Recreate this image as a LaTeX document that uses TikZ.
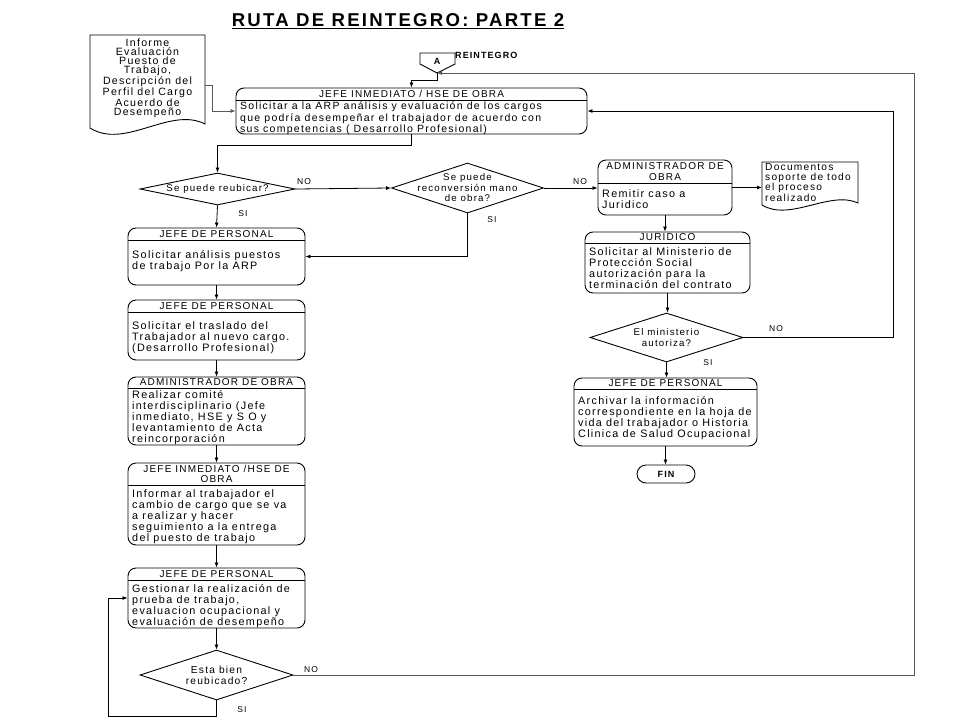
\documentclass[tikz,border=0pt]{standalone}
\usepackage{fontspec}
\setmainfont{Liberation Sans}[LetterSpace=12]
\usetikzlibrary{calc,fit,shapes.geometric,arrows.meta}
% name, left, top, right, bottom, header line, header, body top, body
\newcommand{\caja}[9]{%
  \node[caja, fit={(#2,#3) (#4,#5)}] (#1) {};
  \draw[linea] (#2,#6) -- (#4,#6);
  \node[cab] (#1c) at ({(#2+#4)/2},{(#3+#6)/2}) {#7};
  \node[cuerpo] (#1t) at ({#2+4},#8) {#9};
}
\tikzset{
  linea/.style={line width=0.9pt, black},
  caja/.style={draw, line width=0.9pt, rounded corners=8pt, inner sep=0pt},
  cab/.style={inner sep=0pt, align=center, font=\fontsize{10}{10.5}\selectfont},
  cuerpo/.style={inner sep=0pt, align=left, anchor=north west, font=\fontsize{10.8}{11.2}\selectfont},
  decision/.style={diamond, draw, line width=0.9pt, inner sep=0pt},
  texto/.style={inner sep=0pt, align=center, font=\fontsize{9.7}{10.5}\selectfont},
  etiqueta/.style={inner sep=0pt, font=\fontsize{8.5}{9}\selectfont},
  flecha/.style={line width=0.8pt, -{Latex[length=5pt,width=4pt]}},
  retorno/.style={flecha, gray!70!black},
  terminal/.style={draw, line width=0.9pt, rounded corners=9pt, inner sep=0pt},
}
\begin{document}
\begin{tikzpicture}[x=1pt,y=-1pt]
  \fill[white] (0,0) rectangle (960,720);
  \useasboundingbox (0,0) rectangle (960,720);
  %%%%% TITULO %%%%%
  \node[inner sep=0pt, font=\fontsize{18.6}{20}\selectfont\bfseries] (tit) at (398,21) {\underline{RUTA DE REINTEGRO: PARTE 2}};

  %%%%% CONECTOR A %%%%%
  \draw[linea] (420,53) -- (455,53) -- (455,64) -- (437,73) -- (420,64) -- cycle;
  \node[inner sep=0pt, font=\fontsize{9}{10}\selectfont\bfseries] (A) at (437,61) {A};
  \coordinate (Av) at (437,73);
  \node[inner sep=0pt, anchor=west, font=\fontsize{9}{10}\selectfont\bfseries] (reint) at (455,55) {REINTEGRO};

  %%%%% DOCUMENTOS %%%%%
  \draw[linea] (90,35) -- (205,35) -- (205,124) .. controls (170,106) and (125,150) .. (90,128) -- cycle;
  \node[texto, font=\fontsize{10.6}{9.1}\selectfont] (doc1) at (147.5,78) {Informe\\Evaluación\\Puesto de\\Trabajo,\\Descripción del\\Perfil del Cargo\\Acuerdo de\\Desempeño};
  \coordinate (doc1e) at (205,85);

  \draw[linea] (762,162) -- (858,162) -- (858,203) .. controls (830,190) and (790,222) .. (762,205) -- cycle;
  \node[cuerpo, font=\fontsize{10.2}{9.5}\selectfont] (doc2) at (765,163.5) {Documentos\\soporte de todo\\el proceso\\realizado};
  \coordinate (doc2w) at (762,190);

  %%%%% CAJAS %%%%%
  \begin{scope}[cuerpo/.append style={font=\fontsize{10.5}{11.2}\selectfont}]
    \caja{jio}{236}{88}{587}{134}{100}{JEFE INMEDIATO / HSE DE OBRA}{102}{ Solicitar a la ARP  análisis y evaluación de los cargos\\que podría desempeñar el trabajador de acuerdo con\\sus competencias ( Desarrollo Profesional)}
  \end{scope}
  \caja{jp1}{128}{228}{305}{285}{240}{JEFE DE PERSONAL}{250}{Solicitar análisis puestos\\de trabajo Por la ARP}
  \caja{jp2}{128}{300}{305}{360}{312}{JEFE DE PERSONAL}{321}{Solicitar el traslado del\\Trabajador al nuevo cargo.\\(Desarrollo Profesional)}
  \begin{scope}[cuerpo/.append style={font=\fontsize{10.8}{10.9}\selectfont}]
    \caja{ao}{128}{377}{305}{445}{388}{ADMINISTRADOR DE OBRA}{390.5}{Realizar comité\\interdisciplinario (Jefe\\inmediato, HSE y S O y\\levantamiento de Acta\\reincorporación}
  \end{scope}
  \caja{jih}{128}{463}{305}{545}{485}{JEFE INMEDIATO /HSE DE\\OBRA}{489}{Informar al trabajador el\\cambio de cargo que se va\\a realizar y hacer\\seguimiento a la entrega\\del puesto de trabajo}
  \caja{jp4}{128}{568}{305}{628}{580}{JEFE DE PERSONAL}{584}{Gestionar la  realización de\\prueba de trabajo,\\evaluacion ocupacional y\\evaluación de desempeño}
  \caja{adm}{598}{160}{732}{215}{183}{ADMINISTRADOR DE\\OBRA}{189}{Remitir caso a\\Juridico}
  \caja{jur}{585}{232}{750}{293}{243}{JURIDICO}{247}{Solicitar al Ministerio de\\Protección Social\\autorización para la\\terminación del contrato}
  \caja{jp3}{574}{378}{757}{446}{389}{JEFE DE PERSONAL}{396}{Archivar la información\\correspondiente en la hoja de\\vida del trabajador o Historia\\Clinica de Salud Ocupacional}
  \node[terminal, minimum width=58pt, minimum height=18pt, font=\fontsize{9}{10}\selectfont\bfseries] (fin) at (666,474) {FIN};

  %%%%% DECISIONES %%%%%
  \node[decision, minimum width=155pt, minimum height=32pt] (d1) at (217.5,189) {};
  \node[texto] (d1t) at (d1) {Se puede reubicar?};
  \node[decision, minimum width=152pt, minimum height=50pt] (d2) at (467.5,188) {};
  \node[texto] (d2t) at (d2) {Se puede\\reconversión mano\\de obra?};
  \node[decision, minimum width=153pt, minimum height=49pt] (d3) at (666.5,337.5) {};
  \node[texto] (d3t) at (d3) {El ministerio\\autoriza?};
  \node[decision, minimum width=153pt, minimum height=50pt] (d4) at (216.5,675) {};
  \node[texto, font=\fontsize{10.2}{11}\selectfont] (d4t) at (d4) {Esta bien\\reubicado?};

  %%%%% ETIQUETAS %%%%%
  \node[etiqueta] (no1) at (304,182) {NO};
  \node[etiqueta] (si1) at (243,214) {SI};
  \node[etiqueta] (no2) at (580,182) {NO};
  \node[etiqueta] (si2) at (492,220) {SI};
  \node[etiqueta] (no3) at (776,329) {NO};
  \node[etiqueta] (si3) at (708,363) {SI};
  \node[etiqueta] (no4) at (311,670) {NO};
  \node[etiqueta] (si4) at (242,710) {SI};

  %%%%% CONEXIONES %%%%%
  \coordinate (r1) at (914,73);
  \coordinate (r2) at (893,0);
  \coordinate (r3) at (108,716);
  \draw[flecha] (Av) -- ++(0,7) -| (jio.north);
  \draw[retorno] (doc1e) -- ++(7,0) |- (jio.west);
  \draw[flecha] (jio.south) -- ++(0,11) -| (d1.north);
  \draw[flecha] (d1.east) -- (d2.west);
  \draw[flecha] (d1.south) -- (jp1.north);
  \draw[flecha] (d2.south) |- (jp1.east);
  \draw[flecha] (d2.east) -- (d2.east -| adm.west);
  \draw[flecha] (adm.east) -- (adm.east -| doc2w);
  \draw[flecha] (adm.south) -- (adm.south |- jur.north);
  \draw[flecha] (jur.south) -- (jur.south |- d3.north);
  \draw[flecha] (d3.south) -- (d3.south |- jp3.north);
  \draw[flecha] (jp3.south) -- (jp3.south |- fin.north);
  \draw[flecha] (d3.east) -| (r2 |- jio.east) -- (jio.east);
  \draw[flecha] (jp1.south) -- (jp2.north);
  \draw[flecha] (jp2.south) -- (ao.north);
  \draw[flecha] (ao.south) -- (jih.north);
  \draw[flecha] (jih.south) -- (jp4.north);
  \draw[flecha] (jp4.south) -- (d4.north);
  \draw[flecha] (d4.south) |- (r3) |- (jp4.west);
  \draw[retorno] (d4.east) -| (r1) -- (Av);
\end{tikzpicture}
\end{document}
